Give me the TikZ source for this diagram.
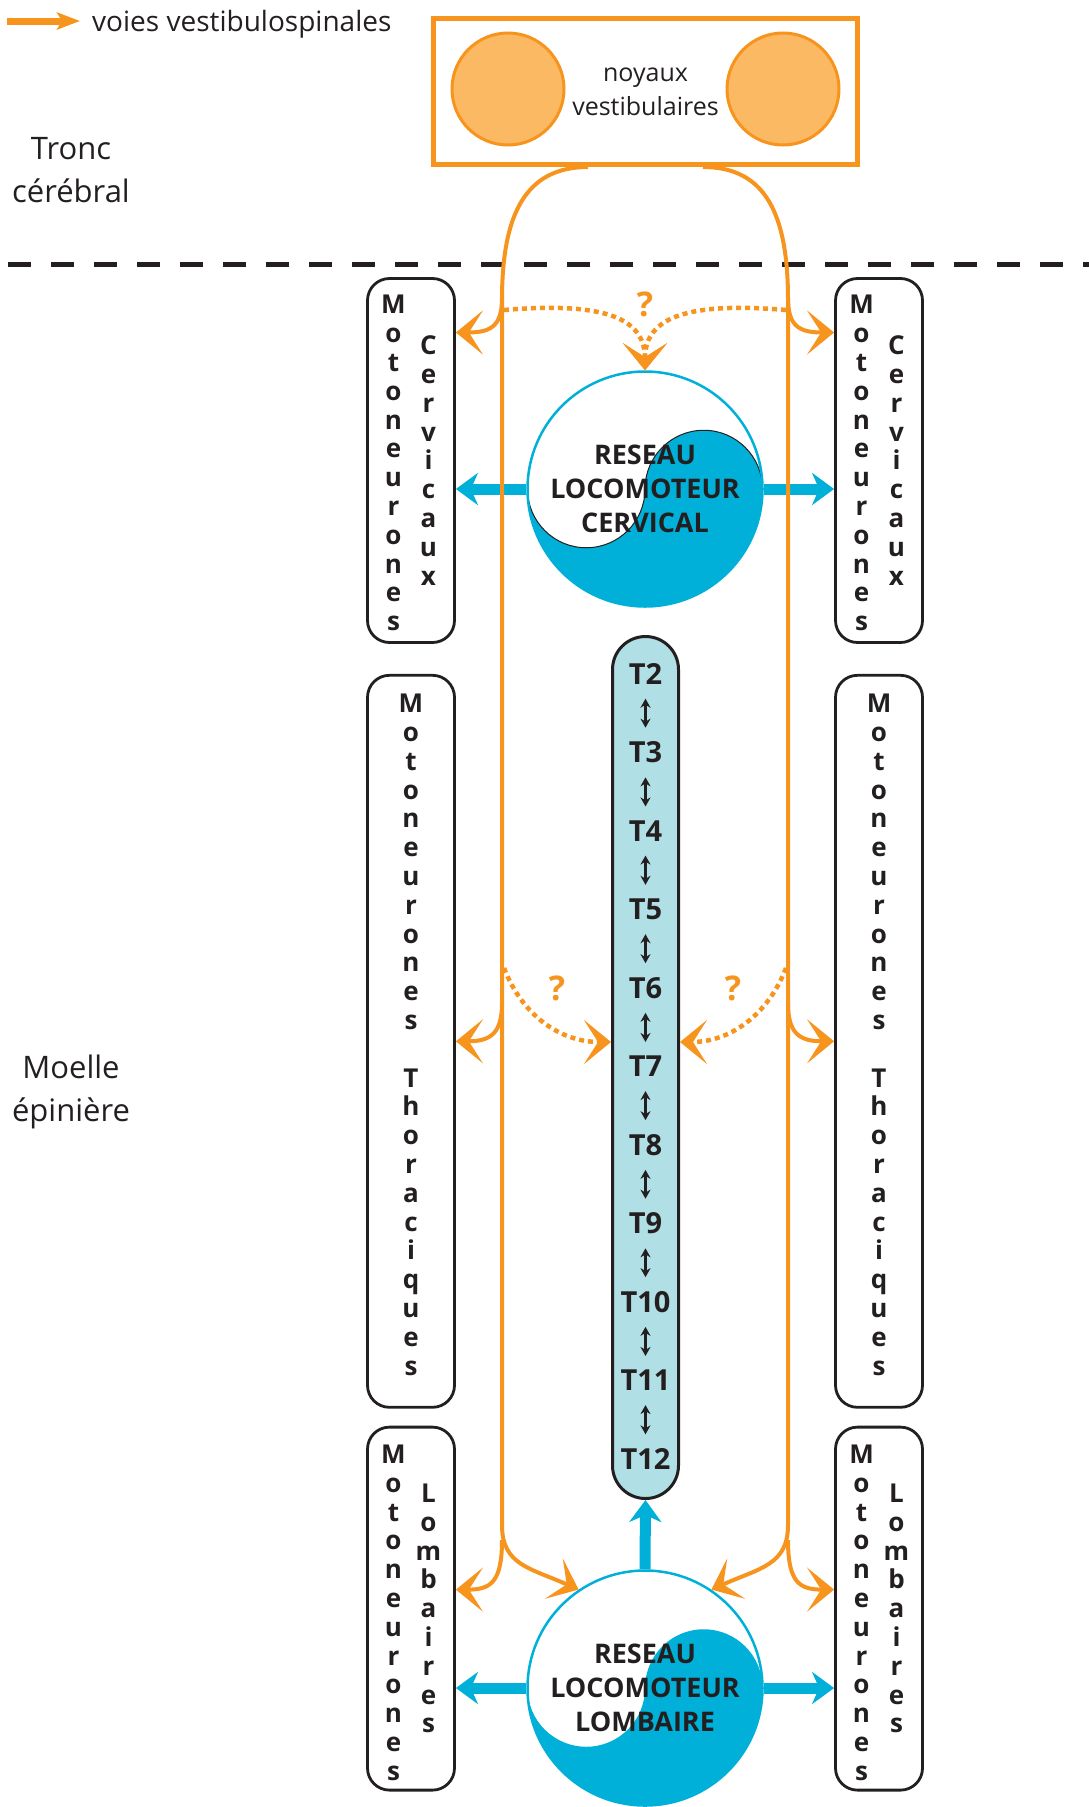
\documentclass[tikz,border=0pt]{standalone}
\usepackage{fontspec}
\setmainfont{Open Sans}
\usetikzlibrary{arrows.meta,positioning}

\definecolor{vorange}{RGB}{247,148,29}
\definecolor{vlight}{RGB}{252,185,100}
\definecolor{cpgblue}{RGB}{0,176,216}
\definecolor{tblue}{RGB}{176,223,229}
\definecolor{ink}{RGB}{35,31,32}

\begin{document}
\begin{tikzpicture}[
    x=1pt, y=-1pt,
    every node/.style={text=ink, inner sep=0pt},
    side/.style={align=center, font=\fontsize{31}{43}\selectfont},
    nucbox/.style={draw=vorange, line width=5pt, minimum width=424pt, minimum height=146pt, align=center, font=\fontsize{25}{34}\selectfont},
    nucleus/.style={circle, draw=vorange, line width=3pt, fill=vlight, minimum size=112pt},
    mnbox/.style={draw=ink, line width=2.8pt, rounded corners=22pt, minimum width=87pt},
    letters/.style={align=center, font=\fontsize{26}{28.8}\selectfont\bfseries},
    cpg/.style={circle, draw=cpgblue, line width=2.5pt, minimum size=235pt, align=center, font=\fontsize{27}{34}\selectfont\bfseries},
    tcol/.style={draw=ink, line width=3pt, fill=tblue, rounded corners=33pt, minimum width=66pt, minimum height=862pt},
    seg/.style={font=\fontsize{29}{29}\selectfont\bfseries},
    ask/.style={text=vorange, font=\fontsize{34}{34}\selectfont\bfseries},
    vsp/.style={draw=vorange, line width=4pt, -{Stealth[length=27pt,width=44pt,inset=14pt]}},
    vspq/.style={vsp, line width=4.5pt, dash pattern=on 5pt off 4pt},
    legarrow/.style={draw=vorange, line width=7pt, -{Stealth[length=23pt,width=17pt,inset=5pt]}},
    cpgarrow/.style={draw=cpgblue, line width=11pt, -{Stealth[length=22pt,width=32pt,inset=7pt]}},
    segarrow/.style={draw=ink, line width=3.2pt, {Stealth[length=9pt,width=10pt]}-{Stealth[length=9pt,width=10pt]}, shorten <=14pt, shorten >=14pt},
    divider/.style={draw=ink, line width=5pt, dash pattern=on 23pt off 20pt}
]
\useasboundingbox (0,0) rectangle (1089,1807);

% legend and levels
\node[font=\fontsize{28}{34}\selectfont, anchor=base west] (legend) at (92,31) {voies vestibulospinales};
\coordinate (legstart) at (7,21);
\draw[legarrow, shorten >=12pt] (legstart) -- (legstart -| legend.west);
\node[side] (tronc) at (71,170.5) {Tronc\\cérébral};
\node[side] (moelle) at (71,1092) {Moelle\\épinière};
\draw[divider] (8,264) -- (1089,264);

% vestibular nuclei
\node[nucbox] (noyaux) at (645.5,91.5) {noyaux\\vestibulaires};
\node[nucleus] (vnL) at (508,89) {};
\node[nucleus] (vnR) at (783,89) {};

% motoneuron pools
\node[mnbox, minimum height=364pt] (mcL) at (411,460.5) {};
\node[mnbox, minimum height=364pt] (mcR) at (879,460.5) {};
\node[mnbox, minimum height=732pt, below=30pt of mcL] (mtL) {};
\node[mnbox, minimum height=732pt, below=30pt of mcR] (mtR) {};
\node[mnbox, minimum height=363pt, below=17pt of mtL] (mlL) {};
\node[mnbox, minimum height=363pt, below=17pt of mtR] (mlR) {};

\node[letters, below=18pt of mcL.north, xshift=-17.5pt] (mcLa) {M\\o\\t\\o\\n\\e\\u\\r\\o\\n\\e\\s};
\node[letters, xshift=17.5pt] (mcLb) at (mcL.center) {C\\e\\r\\v\\i\\c\\a\\u\\x};
\node[letters, below=18pt of mcR.north, xshift=-17.5pt] (mcRa) {M\\o\\t\\o\\n\\e\\u\\r\\o\\n\\e\\s};
\node[letters, xshift=17.5pt] (mcRb) at (mcR.center) {C\\e\\r\\v\\i\\c\\a\\u\\x};
\node[letters, below=20pt of mtL.north] (mtLa) {M\\o\\t\\o\\n\\e\\u\\r\\o\\n\\e\\s\\[28.8pt]T\\h\\o\\r\\a\\c\\i\\q\\u\\e\\s};
\node[letters, below=20pt of mtR.north] (mtRa) {M\\o\\t\\o\\n\\e\\u\\r\\o\\n\\e\\s\\[28.8pt]T\\h\\o\\r\\a\\c\\i\\q\\u\\e\\s};
\node[letters, below=19pt of mlL.north, xshift=-17.5pt] (mlLa) {M\\o\\t\\o\\n\\e\\u\\r\\o\\n\\e\\s};
\node[letters, xshift=17.5pt] (mlLb) at (mlL.center) {L\\o\\m\\b\\a\\i\\r\\e\\s};
\node[letters, below=19pt of mlR.north, xshift=-17.5pt] (mlRa) {M\\o\\t\\o\\n\\e\\u\\r\\o\\n\\e\\s};
\node[letters, xshift=17.5pt] (mlRb) at (mlR.center) {L\\o\\m\\b\\a\\i\\r\\e\\s};

% locomotor networks
\coordinate (cervc) at (645,489);
\fill[cpgblue] ([xshift=-117.5pt]cervc) arc[start angle=180, end angle=0, radius=117.5]
    arc[start angle=0, end angle=-180, radius=58.75] arc[start angle=0, end angle=180, radius=58.75] -- cycle;
\draw[ink, line width=1pt] ([xshift=117.5pt]cervc) arc[start angle=0, end angle=-180, radius=58.75]
    arc[start angle=0, end angle=180, radius=58.75];
\node[cpg] (cerv) at (cervc) {RESEAU\\LOCOMOTEUR\\CERVICAL};

\coordinate (lombc) at (645,1688);
\fill[cpgblue] ([xshift=-117.5pt]lombc) arc[start angle=180, end angle=0, radius=117.5]
    arc[start angle=0, end angle=-180, radius=58.75] arc[start angle=0, end angle=180, radius=58.75] -- cycle;
\node[cpg] (lomb) at (lombc) {RESEAU\\LOCOMOTEUR\\LOMBAIRE};

% thoracic segments
\node[tcol] (tcol) at (645.5,1067.5) {};
\foreach \n [count=\i from 0] in {2,...,12}
    \node[seg] (T\n) at (645.5,{674+78.5*\i}) {T\n};
\foreach \n [evaluate=\n as \m using int(\n+1)] in {2,...,11}
    \draw[segarrow] (T\n) -- (T\m);

\draw[cpgarrow] (cerv.west) -- (cerv.west -| mcL.east);
\draw[cpgarrow] (cerv.east) -- (cerv.east -| mcR.west);
\draw[cpgarrow] (lomb.west) -- (lomb.west -| mlL.east);
\draw[cpgarrow] (lomb.east) -- (lomb.east -| mlR.west);
\draw[cpgarrow] (lomb.north) -- (tcol.south);

% vestibulospinal pathways
\coordinate (jL1) at (502,298);
\coordinate (jL2) at (502,1003);
\coordinate (jL3) at (502,1540);
\coordinate (jR1) at (788,298);
\coordinate (jR2) at (788,1003);
\coordinate (jR3) at (788,1540);
\draw[vsp] ([xshift=-57.5pt]noyaux.south) .. controls (525,167) and (502,215) .. (502,300)
    -- (502,1525) .. controls (502,1565) and (530,1568) .. (lomb.124);
\draw[vsp] ([xshift=57.5pt]noyaux.south) .. controls (766,167) and (788,215) .. (788,300)
    -- (788,1525) .. controls (788,1565) and (760,1568) .. (lomb.56);
\draw[vsp] (jL1) .. controls +(0,28) and +(35,0) .. ([yshift=128pt]mcL.east);
\draw[vsp] (jR1) .. controls +(0,28) and +(-35,0) .. ([yshift=128pt]mcR.west);
\draw[vsp] (jL2) .. controls +(0,30) and +(35,0) .. (mtL.east);
\draw[vsp] (jR2) .. controls +(0,30) and +(-35,0) .. (mtR.west);
\draw[vsp] (jL3) .. controls +(0,42) and +(35,0) .. ([yshift=19pt]mlL.east);
\draw[vsp] (jR3) .. controls +(0,42) and +(-35,0) .. ([yshift=19pt]mlR.west);

% uncertain projections
\coordinate (qL1) at (504,310);
\coordinate (qR1) at (786,310);
\coordinate (qL2) at (504,968);
\coordinate (qR2) at (786,968);
\draw[vspq] (qL1) .. controls (600,302) and (645,316) .. (cerv.north);
\draw[vspq] (qR1) .. controls (690,302) and (645,316) .. (cerv.north);
\draw[vspq] (qL2) .. controls (522,1015) and (560,1042) .. ([yshift=25.5pt]tcol.west);
\draw[vspq] (qR2) .. controls (768,1015) and (730,1042) .. ([yshift=25.5pt]tcol.east);
\node[ask] (q1) at (645,304) {?};
\node[ask] (q2) at (557,988) {?};
\node[ask] (q3) at (733,988) {?};
\end{tikzpicture}
\end{document}
